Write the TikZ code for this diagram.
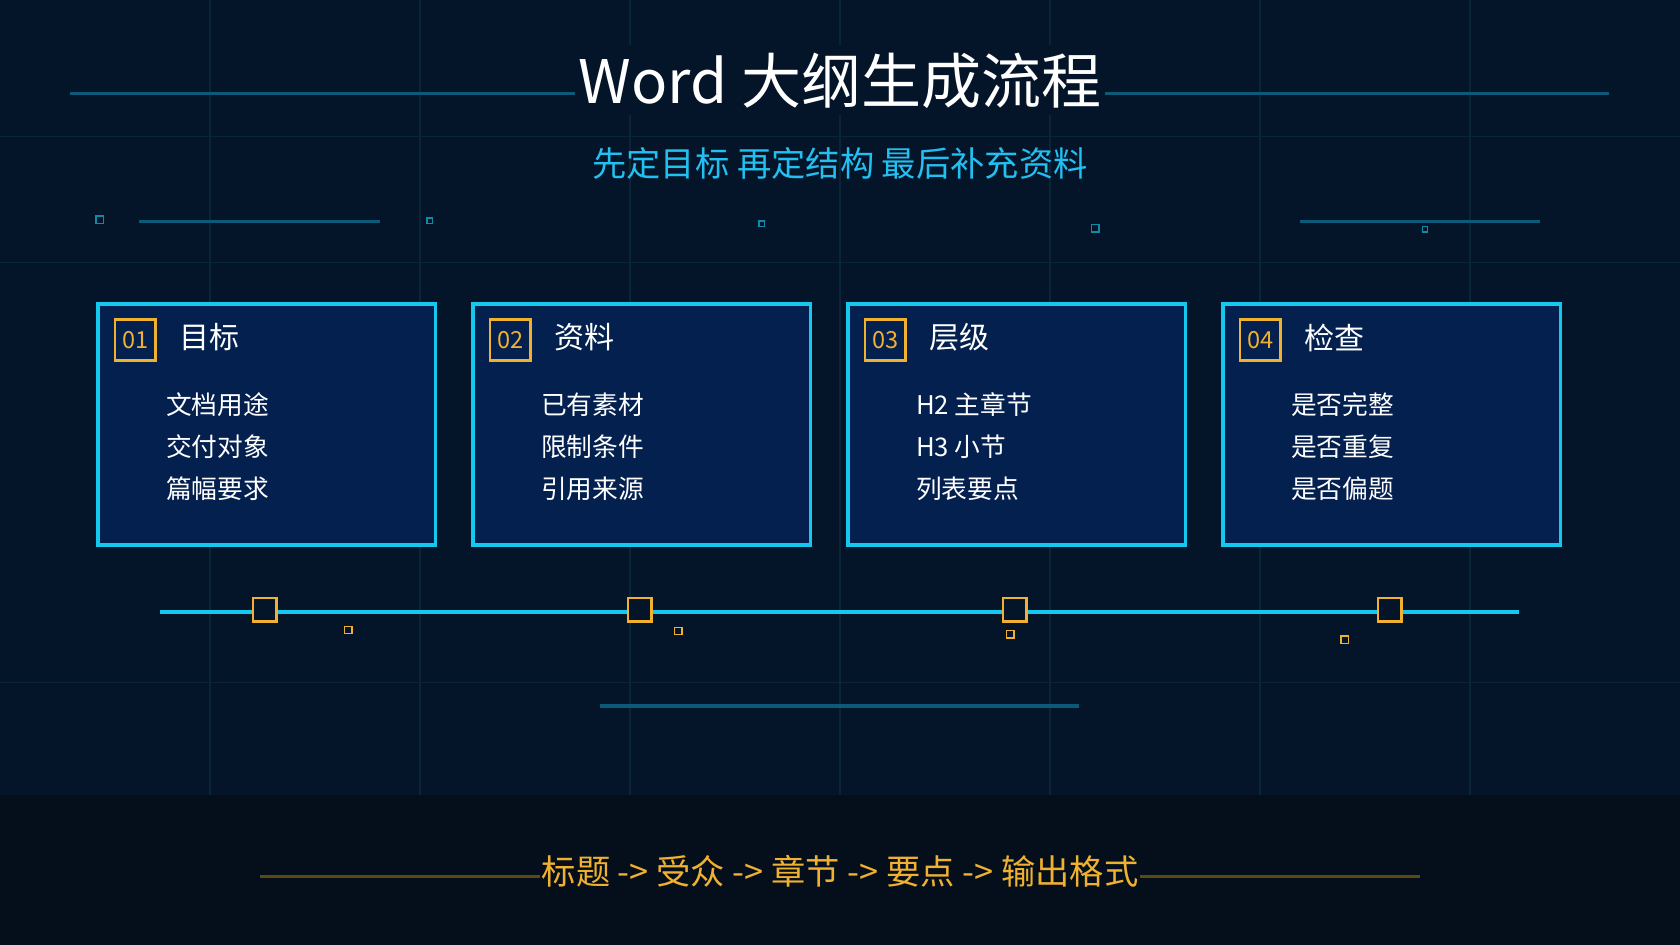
\documentclass[tikz,border=0pt]{standalone}
\usepackage{fontspec}
\setmainfont{Noto Sans CJK SC}
\definecolor{bg}{HTML}{04152A}
\definecolor{band}{HTML}{040F1B}
\definecolor{gridc}{HTML}{0A2438}
\definecolor{cyanc}{HTML}{14C8EE}
\definecolor{subc}{HTML}{22C0F0}
\definecolor{dimline}{HTML}{0B5A78}
\definecolor{cardfill}{HTML}{03204F}
\definecolor{orangec}{HTML}{F0B030}
\definecolor{goldline}{HTML}{5A4A10}
\tikzset{
 card/.style={draw=cyanc,line width=1.6pt,fill=cardfill,minimum width=157.5pt,minimum height=112.5pt,anchor=north west,inner sep=0},
 numbox/.style={draw=orangec,line width=1.3pt,minimum size=19pt,inner sep=0,text=orangec,font=\fontsize{11}{12}\selectfont,anchor=north west},
 cardtitle/.style={text=white,font=\fontsize{14}{16}\selectfont,anchor=west},
 item/.style={text=white,font=\fontsize{12}{14}\selectfont,anchor=west},
 dot/.style={draw=orangec,line width=1.2pt,minimum size=11pt,inner sep=0},
 sdot/.style={draw=orangec,line width=0.6pt,minimum size=3.5pt,inner sep=0},
 cdot/.style={draw=cyanc!70!black,line width=0.7pt,minimum size=3.5pt,inner sep=0},
 dline/.style={draw=dimline,line width=1.5pt}
}
\begin{document}
\begin{tikzpicture}[x=0.5pt,y=-0.5pt]
\useasboundingbox (0,0) rectangle (1568,882);
\fill[bg] (0,0) rectangle (1568,882);
\foreach \x in {196,392,588,784,980,1176,1372} \draw[gridc,line width=0.5pt] (\x,0) -- (\x,742);
\foreach \y in {127,245,637} \draw[gridc,line width=0.5pt] (0,\y) -- (1568,\y);
\fill[band] (0,742) rectangle (1568,882);
% top decorations
\draw[dline] (65,87) -- (1502,87);
\node[fill=bg,text=white,font=\fontsize{28}{32}\selectfont,inner xsep=2pt] (title) at (784,75) {Word 大纲生成流程};
\node[text=subc,font=\fontsize{16}{18}\selectfont] (sub) at (784,153) {先定目标 再定结构 最后补充资料};
\draw[dline] (130,207) -- (355,207);
\draw[dline] (1213,207) -- (1437,207);
\node[cdot] at (93,205) {};
\node[cdot,minimum size=2.5pt] at (401,206) {};
\node[cdot,minimum size=2.5pt] at (711,209) {};
\node[cdot] at (1022,213) {};
\node[cdot,minimum size=2.5pt] at (1330,214) {};
% timeline
\draw[cyanc,line width=2pt] (149,571) -- (1418,571);
\draw[dline] (560,659) -- (1007,659);
% cards
\foreach \i/\x/\n/\t/\a/\b/\c/\sx/\sy in {
 1/90/01/目标/文档用途/交付对象/篇幅要求/325/588,
 2/440/02/资料/已有素材/限制条件/引用来源/633/589,
 3/790/03/层级/H2 主章节/H3 小节/列表要点/943/592,
 4/1140/04/检查/是否完整/是否重复/是否偏题/1255/597}{
 \node[card] (card\i) at (\x,282) {};
 \node[numbox] (num\i) at (\x+16,297) {\n};
 \node[cardtitle] (t\i) at (\x+70,315) {\t};
 \node[item] (a\i) at (\x+58,378) {\a};
 \node[item] (b\i) at (\x+58,417) {\b};
 \node[item] (c\i) at (\x+58,456) {\c};
 \node[dot,fill=bg] (d\i) at (\x+157,569) {};
 \node[sdot] (s\i) at (\sx,\sy) {};
}
% bottom
\draw[goldline,line width=1.5pt] (243,818) -- (1325,818);
\node[fill=band,text=orangec,font=\fontsize{16}{18}\selectfont,inner xsep=1pt,inner ysep=0pt] (flow) at (784,813) {标题 -> 受众 -> 章节 -> 要点 -> 输出格式};
\end{tikzpicture}
\end{document}
